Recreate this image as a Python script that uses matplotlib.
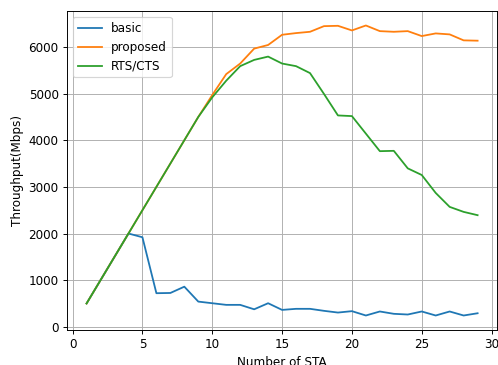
import matplotlib
matplotlib.use("Agg")
import matplotlib.pyplot as plt

sta = list(range(1, 30))
basic = [500, 1000, 1500, 2000, 1920, 720, 725, 860, 540, 505, 470, 470, 375, 505,
         362, 385, 385, 342, 305, 335, 242, 328, 278, 263, 328, 242, 328, 242, 290]
proposed = [500, 1000, 1500, 2000, 2500, 3000, 3500, 4000, 4500, 4970, 5418, 5645, 5965, 6043,
            6262, 6298, 6326, 6447, 6454, 6355, 6461, 6340, 6326, 6340, 6234, 6291, 6270, 6142, 6135]
rtscts = [500, 1000, 1500, 2000, 2500, 3000, 3500, 4000, 4500, 4920, 5277, 5589, 5723, 5794,
          5645, 5589, 5440, 4993, 4532, 4518, 4142, 3766, 3773, 3397, 3255, 2870, 2571, 2464, 2393]

DPI = 86
fig = plt.figure(figsize=(499 / DPI, 365 / DPI), dpi=DPI)
ax = fig.add_axes([0.1343, 0.0959, 0.862, 0.874])
ax.plot(sta, basic, label="basic")
ax.plot(sta, proposed, label="proposed")
ax.plot(sta, rtscts, label="RTS/CTS")
ax.set_xlabel("Number of STA")
ax.set_ylabel("Throughput(Mbps)")
ax.grid(True)
ax.legend(loc="upper left")
fig.savefig("out.png", dpi=DPI)
